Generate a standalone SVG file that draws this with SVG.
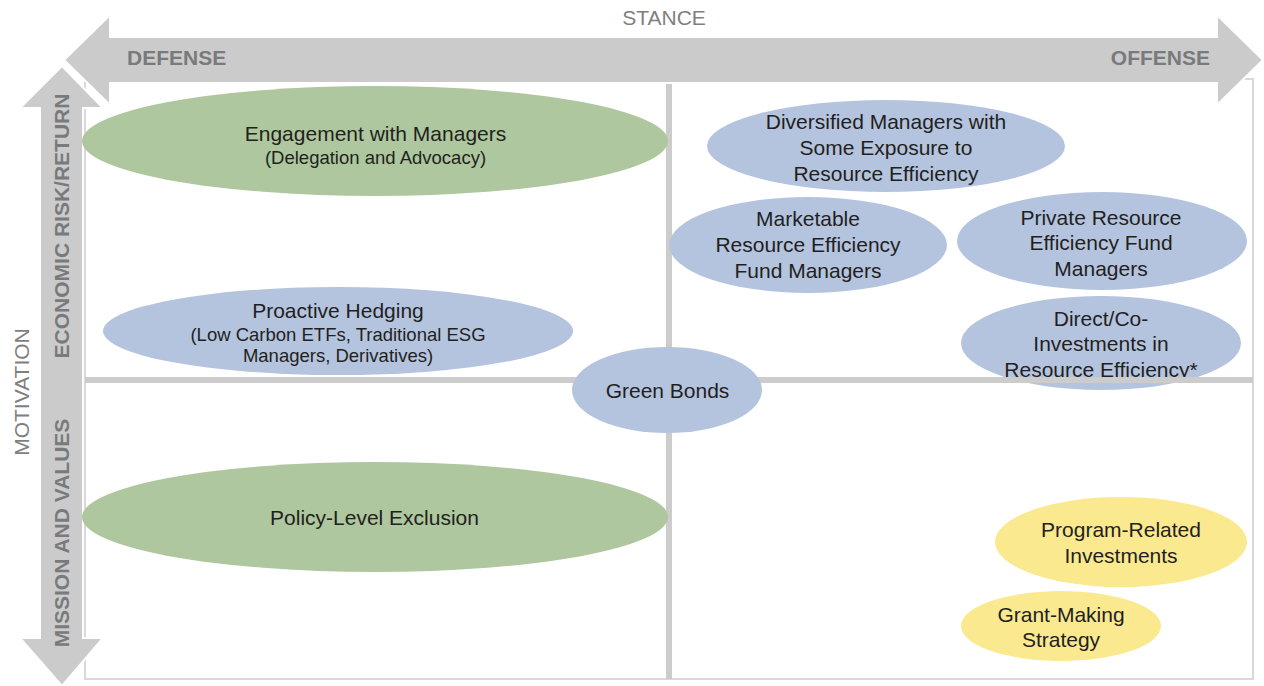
<svg xmlns="http://www.w3.org/2000/svg" width="1264" height="686" viewBox="0 0 1264 686">
<style>
.arrow{fill:#cbcbcb;stroke:#ffffff;stroke-width:2;stroke-linejoin:miter}
.axis{font-family:"Liberation Sans",Arial,sans-serif;font-size:21px;fill:#7f7f7f;text-anchor:middle}
.axisb{font-family:"Liberation Sans",Arial,sans-serif;font-size:21px;font-weight:bold;fill:#787a7c}
.div{stroke:#cccccc;stroke-width:6;fill:none}
.green{fill:#aec79e}
.blue{fill:#b4c4df}
.yellow{fill:#fbe98f}
.t{font-family:"Liberation Sans",Arial,sans-serif;font-size:21px;fill:#231f20;text-anchor:middle}
.s{font-family:"Liberation Sans",Arial,sans-serif;font-size:18.5px;fill:#231f20;text-anchor:middle}
</style>
<rect width="1264" height="686" fill="#ffffff"/>
<g id="frame">
<rect x="85" y="79" width="1168" height="600" fill="none" stroke="#d9d9d9" stroke-width="2"/>
</g>
<g id="node-direct">
<ellipse class="blue" cx="1101" cy="343" rx="140" ry="47"/>
<text class="t" x="1101" y="325.5">Direct/Co-</text>
<text class="t" x="1101" y="351">Investments in</text>
<text class="t" x="1101" y="376.5">Resource Efficiency*</text>
</g>
<g id="node-hedging">
<ellipse class="blue" cx="338" cy="331" rx="235" ry="44"/>
<text class="t" x="338" y="317.5">Proactive Hedging</text>
<text class="s" x="338" y="340.6">(Low Carbon ETFs, Traditional ESG</text>
<text class="s" x="338" y="361.6">Managers, Derivatives)</text>
</g>
<g id="dividers">
<line class="div" x1="669" y1="83" x2="669" y2="679"/>
<line class="div" x1="85" y1="380" x2="1253" y2="380"/>
</g>
<g id="axis-motivation">
<polygon class="arrow" points="62,66 103,108 83,108 83,638 103,638 62,686 20,638 40,638 40,108 20,108"/>
<text class="axisb" transform="translate(69,226) rotate(-90)" text-anchor="middle">ECONOMIC RISK/RETURN</text>
<text class="axisb" transform="translate(69,533) rotate(-90)" text-anchor="middle">MISSION AND VALUES</text>
<text class="axis" transform="translate(29,392) rotate(-90)">MOTIVATION</text>
</g>
<g id="axis-stance">
<polygon class="arrow" points="64,60 110,15 110,37 1217,37 1217,15 1263,60 1217,105 1217,83 110,83 110,105"/>
<text class="axis" x="664" y="25">STANCE</text>
<text class="axisb" x="127" y="64.5">DEFENSE</text>
<text class="axisb" x="1210" y="64.5" text-anchor="end">OFFENSE</text>
</g>
<g id="node-engagement">
<ellipse class="green" cx="375" cy="141" rx="293" ry="55"/>
<text class="t" x="375.5" y="140.5">Engagement with Managers</text>
<text class="s" x="375.5" y="163.6">(Delegation and Advocacy)</text>
</g>
<g id="node-greenbonds">
<ellipse class="blue" cx="667" cy="390" rx="95" ry="43"/>
<text class="t" x="667.5" y="397.5">Green Bonds</text>
</g>
<g id="node-exclusion">
<ellipse class="green" cx="375" cy="517" rx="293" ry="55"/>
<text class="t" x="374.5" y="524.5">Policy-Level Exclusion</text>
</g>
<g id="node-diversified">
<ellipse class="blue" cx="886" cy="146" rx="179" ry="46"/>
<text class="t" x="886" y="128.5">Diversified Managers with</text>
<text class="t" x="886" y="154.5">Some Exposure to</text>
<text class="t" x="886" y="180.5">Resource Efficiency</text>
</g>
<g id="node-marketable">
<ellipse class="blue" cx="808" cy="245" rx="139" ry="48"/>
<text class="t" x="808" y="225.5">Marketable</text>
<text class="t" x="808" y="251.5">Resource Efficiency</text>
<text class="t" x="808" y="277.5">Fund Managers</text>
</g>
<g id="node-private">
<ellipse class="blue" cx="1102" cy="241" rx="145" ry="49"/>
<text class="t" x="1101" y="224.5">Private Resource</text>
<text class="t" x="1101" y="249.5">Efficiency Fund</text>
<text class="t" x="1101" y="275.5">Managers</text>
</g>
<g id="node-pri">
<ellipse class="yellow" cx="1121" cy="542" rx="126" ry="45"/>
<text class="t" x="1121" y="536.5">Program-Related</text>
<text class="t" x="1121" y="562.5">Investments</text>
</g>
<g id="node-grant">
<ellipse class="yellow" cx="1061" cy="626" rx="100" ry="35"/>
<text class="t" x="1061" y="621.5">Grant-Making</text>
<text class="t" x="1061" y="646.5">Strategy</text>
</g>
<g id="connectors"></g>
</svg>
